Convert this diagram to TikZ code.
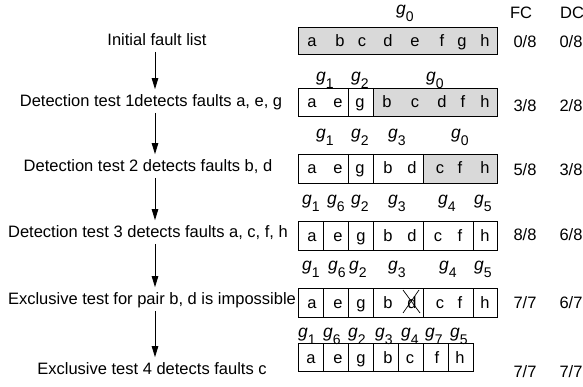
\documentclass[tikz,border=0pt]{standalone}
\usepackage{fontspec}
\setmainfont{Liberation Sans}
\usetikzlibrary{arrows.meta}
\definecolor{cellgray}{RGB}{217,217,217}
\newcommand\gsub[1]{{\fontsize{17.5}{18}\selectfont\textit{g}}\raisebox{-0.75ex}{\fontsize{14}{14}\selectfont #1}}
\tikzset{
  txt/.style={font=\fontsize{16.5}{18}\selectfont, inner sep=0pt},
  lab/.style={txt, anchor=center, inner ysep=3pt, text height=11.8pt, text depth=3.5pt},
  let/.style={txt, anchor=base},
  gl/.style={txt, anchor=base},
  val/.style={txt, anchor=center},
  boxline/.style={draw=black, line width=0.8pt},
  arr/.style={-{Triangle[length=11pt,width=6.5pt]}, line width=0.8pt, shorten >=2pt, shorten <=0pt}
}
\begin{document}
\begin{tikzpicture}[x=1pt,y=-1pt]
\useasboundingbox (0,0) rectangle (583,387);
\coordinate (ax) at (155,0);
% left labels
\node[lab] (t1) at (157,41) {Initial fault list};
\node[lab] (t2) at (151,102) {Detection test 1detects faults a, e, g};
\node[lab] (t3) at (148,167) {Detection test 2 detects faults b, d};
\node[lab] (t4) at (148,233) {Detection test 3 detects faults a, c, f, h};
\node[lab] (t5) at (152,300) {Exclusive test for pair b, d is impossible};
\node[lab] (t6) at (152,370) {Exclusive test 4 detects faults c};
\draw[arr] (t1.south -| ax) -- (t2.north -| ax);
\draw[arr] (t2.south -| ax) -- (t3.north -| ax);
\draw[arr] (t3.south -| ax) -- (t4.north -| ax);
\draw[arr] (t4.south -| ax) -- (t5.north -| ax);
\draw[arr] (t5.south -| ax) -- (t6.north -| ax);
% headers
\node[val] (hfc) at (521,13) {FC};
\node[val] (hdc) at (572,13) {DC};
% ---------- row 1
\fill[cellgray] (298,27) rectangle (497,54);
\draw[boxline] (298,27) rectangle (497,54);
\node[gl] (r1g0) at (405,14.5) {\gsub{0}};
\foreach \l/\x in {a/312,b/340,c/362,d/388,e/415,f/442,g/462,h/485}
  \node[let] (r1\l) at (\x,47) {\l};
\node[val] (fc1) at (525,42) {0/8};
\node[val] (dc1) at (571,42) {0/8};
% ---------- row 2
\fill[cellgray] (373,88) rectangle (497,116);
\draw[boxline] (298,88) rectangle (497,116);
\draw[boxline] (348,88) -- (348,116) (373,88) -- (373,116);
\node[gl] (r2g1) at (325,81.5) {\gsub{1}};
\node[gl] (r2g2) at (360,81.5) {\gsub{2}};
\node[gl] (r2g0) at (435,81.5) {\gsub{0}};
\foreach \l/\x in {a/312,e/338,g/360,b/387,c/415,d/442,f/463,h/485}
  \node[let] (r2\l) at (\x,108) {\l};
\node[val] (fc2) at (525,106) {3/8};
\node[val] (dc2) at (571,106) {2/8};
% ---------- row 3
\fill[cellgray] (423,154) rectangle (497,183);
\draw[boxline] (298,154) rectangle (497,183);
\draw[boxline] (348,154) -- (348,183) (373,154) -- (373,183) (423,154) -- (423,183);
\node[gl] (r3g1) at (325,138.5) {\gsub{1}};
\node[gl] (r3g2) at (360,138.5) {\gsub{2}};
\node[gl] (r3g3) at (397,138.5) {\gsub{3}};
\node[gl] (r3g0) at (460,138.5) {\gsub{0}};
\foreach \l/\x in {a/312,e/338,g/360,b/388,d/412,c/440,f/460,h/485}
  \node[let] (r3\l) at (\x,174) {\l};
\node[val] (fc3) at (525,170) {5/8};
\node[val] (dc3) at (571,170) {3/8};
% ---------- row 4
\draw[boxline] (298,221) rectangle (497,250);
\foreach \x in {323,348,373,423,473} \draw[boxline] (\x,221) -- (\x,250);
\node[gl] (r4g1) at (311,204.5) {\gsub{1}};
\node[gl] (r4g6) at (336,204.5) {\gsub{6}};
\node[gl] (r4g2) at (360,204.5) {\gsub{2}};
\node[gl] (r4g3) at (397,204.5) {\gsub{3}};
\node[gl] (r4g4) at (447,204.5) {\gsub{4}};
\node[gl] (r4g5) at (483,204.5) {\gsub{5}};
\foreach \l/\x in {a/312,e/338,g/361,b/388,d/412,c/438,f/460,h/485}
  \node[let] (r4\l) at (\x,241) {\l};
\node[val] (fc4) at (525,235) {8/8};
\node[val] (dc4) at (571,235) {6/8};
% ---------- row 5
\draw[boxline] (298,288) rectangle (497,317);
\foreach \x in {323,348,373,423,473} \draw[boxline] (\x,288) -- (\x,317);
\node[gl] (r5g1) at (311,270.5) {\gsub{1}};
\node[gl] (r5g6) at (337,270.5) {\gsub{6}};
\node[gl] (r5g2) at (358,270.5) {\gsub{2}};
\node[gl] (r5g3) at (397,270.5) {\gsub{3}};
\node[gl] (r5g4) at (448,270.5) {\gsub{4}};
\node[gl] (r5g5) at (483,270.5) {\gsub{5}};
\foreach \l/\x in {a/312,e/338,g/361,b/388,d/412,c/440,f/460,h/485}
  \node[let] (r5\l) at (\x,308) {\l};
\draw[line width=0.7pt] (403,290) -- (420,313) (419,290) -- (403,313);
\node[val] (fc5) at (525,303) {7/7};
\node[val] (dc5) at (571,303) {6/7};
% ---------- row 6
\draw[boxline] (298,343) rectangle (473,371);
\foreach \x in {323,348,373,398,423,448} \draw[boxline] (\x,343) -- (\x,371);
\node[gl] (r6g1) at (307,337.5) {\gsub{1}};
\node[gl] (r6g6) at (332,337.5) {\gsub{6}};
\node[gl] (r6g2) at (357,337.5) {\gsub{2}};
\node[gl] (r6g3) at (384,337.5) {\gsub{3}};
\node[gl] (r6g4) at (410,337.5) {\gsub{4}};
\node[gl] (r6g7) at (434,337.5) {\gsub{7}};
\node[gl] (r6g5) at (459,337.5) {\gsub{5}};
\foreach \l/\x in {a/311,e/338,g/361,b/388,c/410,f/437,h/460}
  \node[let] (r6\l) at (\x,363) {\l};
\node[val] (fc6) at (525,372) {7/7};
\node[val] (dc6) at (571,372) {7/7};
\end{tikzpicture}
\end{document}
